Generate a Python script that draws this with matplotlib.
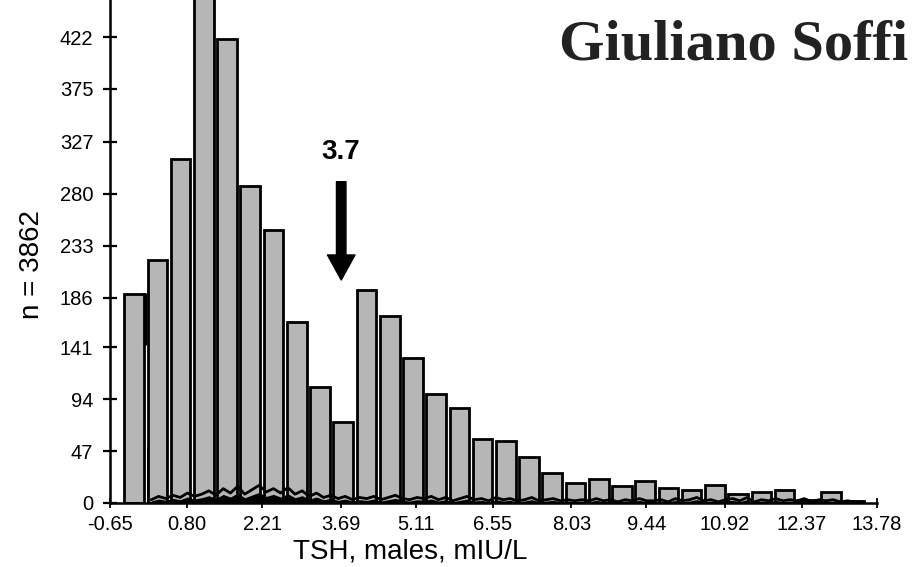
import numpy as np
from matplotlib import pyplot as plt

# histogram of TSH values (males)
binStart = -0.38
binStep = 0.437
counts = [189, 220, 312, 480, 420, 287, 247, 164, 105, 73,
          193, 169, 131, 99, 86, 58, 56, 42, 27, 18,
          22, 15, 20, 14, 12, 16, 8, 10, 12, 3,
          10, 2]

# fine grained trace along the bottom
traceStart = 0.13
traceStep = 0.135
traceValues = [3, 6, 4, 7, 5, 9, 6, 8, 11, 7,
               13, 9, 15, 8, 12, 16, 10, 13, 9, 14,
               8, 11, 6, 9, 5, 7, 4, 6, 3, 5,
               4, 6, 3, 5, 7, 4, 3, 5, 4, 6,
               3, 5, 2, 4, 6, 3, 4, 2, 5, 3,
               4, 2, 3, 5, 2, 3, 4, 2, 3, 2,
               3, 2, 4, 2, 3, 1, 3, 2, 4, 2,
               2, 3, 1, 4, 2, 3, 5, 2, 3, 1,
               3, 4, 2, 5, 1, 3, 2, 4, 2, 3,
               2, 4, 1, 3, 2, 3, 1, 2, 1, 1]

# vertical spike at the start of the trace
spikeX = [0.0, 0.065]
spikeLow = [143, 0]
spikeHigh = [190, 51]
spikeWidth = [2.5, 1.2]

xTicks = [-0.65, 0.80, 2.21, 3.69, 5.11, 6.55, 8.03, 9.44, 10.92, 12.37, 13.78]
xTickLabels = ["-0.65", "0.80", "2.21", "3.69", "5.11", "6.55", "8.03", "9.44", "10.92", "12.37", "13.78"]
yTicks = [0, 47, 94, 141, 186, 233, 280, 327, 375, 422]

cutoff = 3.7

plt.rcParams['font.family'] = ['Liberation Sans', 'DejaVu Sans']

fig = plt.figure(figsize=(9.13, 5.67), dpi=100)
ax = fig.add_axes([110 / 913, 64 / 567, 767 / 913, 503 / 567])

binLefts = binStart + binStep * np.arange(len(counts))
ax.bar(binLefts, counts, width=0.37, align='edge', color='#b6b6b6',
       edgecolor='black', linewidth=2.0, zorder=2)

# noisy trace drawn as a dark jagged band over the bars
traceX = traceStart + traceStep * np.arange(len(traceValues))
ax.fill_between(traceX, 0, np.array(traceValues) * 0.6, color='black', linewidth=0, zorder=3)
ax.plot(traceX, traceValues, color='black', linewidth=2.0, zorder=3)
for x, lo, hi, w in zip(spikeX, spikeLow, spikeHigh, spikeWidth):
    ax.vlines(x, lo, hi, color='black', linewidth=w, zorder=3)

# cutoff marker
ax.text(cutoff, 312, "3.7", fontsize=20, fontweight='bold', ha='center', va='baseline')
ax.annotate("", xy=(cutoff, 202), xytext=(cutoff, 291),
            arrowprops=dict(arrowstyle="simple,head_length=1.0,head_width=1.1,tail_width=0.38",
                            mutation_scale=18, color='black', shrinkA=0, shrinkB=0))

ax.set_xlim(-0.65, 13.78)
ax.set_ylim(0, 455.6)
ax.set_xticks(xTicks)
ax.set_xticklabels(xTickLabels)
ax.set_yticks(yTicks)
ax.set_yticklabels([str(v) for v in yTicks])
ax.tick_params(axis='y', direction='inout', length=10, width=1.6, pad=7, labelsize=14.5)
ax.tick_params(axis='x', direction='inout', length=6.5, width=1.3, pad=5.5, labelsize=14.5)

for side in ['top', 'right']:
    ax.spines[side].set_visible(False)
for side in ['left', 'bottom']:
    ax.spines[side].set_linewidth(1.8)

fig.text(410 / 913, 1 - 558 / 567, "TSH, males, mIU/L", fontsize=20, ha='center', va='baseline')
fig.text(32 / 913, 1 - 265 / 567, "n = 3862", fontsize=20, rotation=90, ha='center', va='center')
fig.text(908 / 913, 1 - 60 / 567, "Giuliano Soffi", fontsize=42, fontweight='bold',
         family='Liberation Serif', color='#222222', ha='right', va='baseline')

plt.savefig("out.png", dpi=100)
plt.close()
